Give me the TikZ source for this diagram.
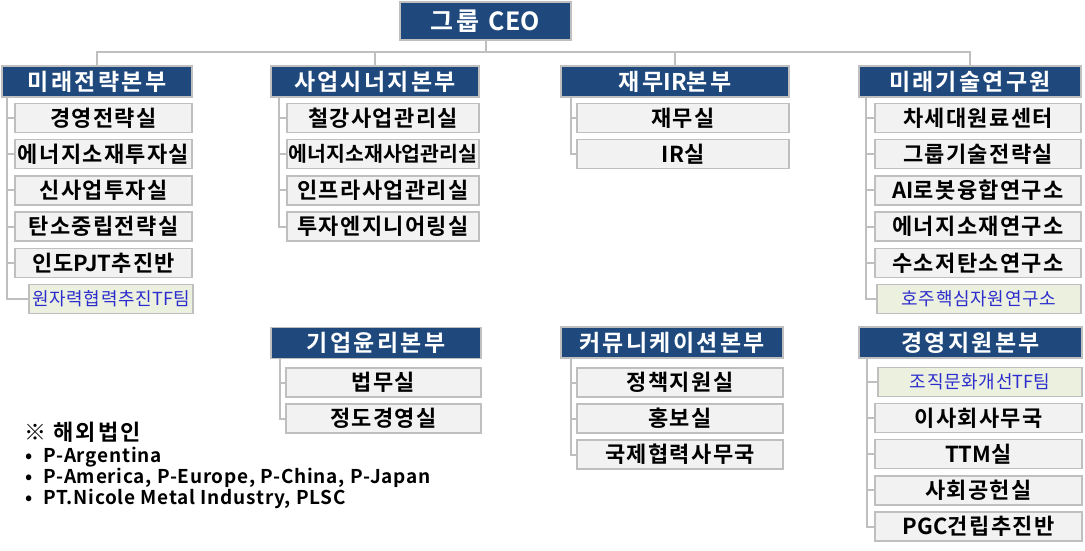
\documentclass[tikz,border=0pt]{standalone}
\usepackage{fontspec}
\setmainfont{Noto Sans CJK KR}[BoldFont={Noto Sans CJK KR Bold}]

\definecolor{headblue}{RGB}{31,73,125}
\definecolor{linegray}{RGB}{191,191,191}
\definecolor{subgray}{RGB}{242,242,242}
\definecolor{tfgreen}{RGB}{235,241,222}
\definecolor{tfblue}{RGB}{45,45,205}
\newcommand{\latpart}[1]{{\addfontfeature{LetterSpace=1}#1}}

\begin{document}
\begin{tikzpicture}[x=1pt,y=-1pt]
\tikzset{
  headbox/.style={draw=linegray,line width=1.5pt,fill=headblue,text=white,inner sep=0pt,minimum height=31pt,
    font=\bfseries\fontsize{23}{23}\selectfont\addfontfeature{LetterSpace=10}},
  subbox/.style={draw=linegray,line width=1.5pt,fill=subgray,inner sep=0pt,minimum height=29pt,
    font=\bfseries\fontsize{22}{22}\selectfont\addfontfeature{LetterSpace=6}},
  tfbox/.style={subbox,fill=tfgreen,text=tfblue,font=\fontsize{18}{18}\selectfont\addfontfeature{LetterSpace=4}},
  conn/.style={draw=linegray,line width=2pt},
  note/.style={anchor=west,inner sep=0pt,font=\bfseries\fontsize{19}{19}\selectfont\addfontfeature{LetterSpace=4}}
}
\useasboundingbox (0,0) rectangle (1085,550);

% top
\node[headbox,minimum width=171pt,minimum height=38pt,
  font=\bfseries\fontsize{25}{25}\selectfont\addfontfeature{LetterSpace=12}] (ceo) at (485.5,21) {그룹 \latpart{CEO}};

\node[headbox,minimum width=190pt] (mirae) at (97,81.5) {미래전략본부};
\node[headbox,minimum width=208pt] (saup) at (375,81.5) {사업시너지본부};
\node[headbox,minimum width=228pt] (jaemu) at (675,81.5) {재무\latpart{IR}본부};
\node[headbox,minimum width=222pt] (gisul) at (970,81.5) {미래기술연구원};

\foreach \h in {mirae,saup,jaemu,gisul}
  \draw[conn] (\h.north) -- ++(0,-13) -| (ceo.south);

% 미래전략본부
\foreach \t [count=\i from 0] in {경영전략실,에너지소재투자실,신사업투자실,탄소중립전략실,인도\latpart{PJT}추진반}{
  \node[subbox,minimum width=177pt] (mirae\i) at (103.5,118+36.2*\i) {\t};
  \draw[conn] ([xshift=6pt]mirae.south west) |- (mirae\i.west);
}
\node[tfbox,minimum width=164pt] (miraetf) at (111,299) {원자력협력추진\latpart{TF}팀};
\draw[conn] ([xshift=6pt]mirae.south west) |- (miraetf.west);

% 사업시너지본부
\foreach \t [count=\i from 0] in {철강사업관리실,{{\fontsize{20.5}{20.5}\selectfont\addfontfeature{LetterSpace=0}에너지소재사업관리실}},인프라사업관리실,투자엔지니어링실}{
  \node[subbox,minimum width=192pt] (saup\i) at (383,118+36.2*\i) {\t};
  \draw[conn] ([xshift=9pt]saup.south west) |- (saup\i.west);
}

% 재무IR본부
\foreach \t [count=\i from 0] in {재무실,\latpart{IR}실}{
  \node[subbox,minimum width=212pt] (jaemu\i) at (683,118+36.2*\i) {\t};
  \draw[conn] ([xshift=11pt]jaemu.south west) |- (jaemu\i.west);
}

% 미래기술연구원
\foreach \t [count=\i from 0] in {차세대원료센터,그룹기술전략실,\latpart{AI}로봇융합연구소,에너지소재연구소,수소저탄소연구소}{
  \node[subbox,minimum width=206pt] (gisul\i) at (978,118+36.2*\i) {\t};
  \draw[conn] ([xshift=8pt]gisul.south west) |- (gisul\i.west);
}
\node[tfbox,minimum width=204pt] (gisultf) at (979,299) {호주핵심자원연구소};
\draw[conn] ([xshift=8pt]gisul.south west) |- (gisultf.west);

% bottom row
\node[headbox,minimum width=210pt] (yunri) at (376,343) {기업윤리본부};
\node[headbox,minimum width=222pt] (comm) at (672,342.5) {커뮤니케이션본부};
\node[headbox,minimum width=223pt] (jiwon) at (970.5,342.5) {경영지원본부};

\foreach \t [count=\i from 0] in {법무실,정도경영실}{
  \node[subbox,minimum width=195pt] (yunri\i) at (383.5,382.5+36*\i) {\t};
  \draw[conn] ([xshift=10pt]yunri.south west) |- (yunri\i.west);
}

\foreach \t [count=\i from 0] in {정책지원실,홍보실,국제협력사무국}{
  \node[subbox,minimum width=206pt] (comm\i) at (680,382.5+36*\i) {\t};
  \draw[conn] ([xshift=11pt]comm.south west) |- (comm\i.west);
}

\node[tfbox,minimum width=204pt] (jiwontf) at (980,382) {조직문화개선\latpart{TF}팀};
\draw[conn] ([xshift=9pt]jiwon.south west) |- (jiwontf.west);
\foreach \t [count=\i from 0] in {이사회사무국,\latpart{TTM}실,사회공헌실,\latpart{PGC}건립추진반}{
  \node[subbox,minimum width=207pt] (jiwon\i) at (978.5,418+36.2*\i) {\t};
  \draw[conn] ([xshift=9pt]jiwon.south west) |- (jiwon\i.west);
}

% 해외법인
\node[note,font=\bfseries\fontsize{22}{22}\selectfont\addfontfeature{LetterSpace=10}] (abroad) at (24,432) {※ 해외법인};
\node[note] (abroad1) at (25,457) {•\hspace{11pt}P-Argentina};
\node[note] (abroad2) at (25,478) {•\hspace{11pt}P-America, P-Europe, P-China, P-Japan};
\node[note] (abroad3) at (25,499) {•\hspace{11pt}PT.Nicole Metal Industry, PLSC};
\end{tikzpicture}
\end{document}
